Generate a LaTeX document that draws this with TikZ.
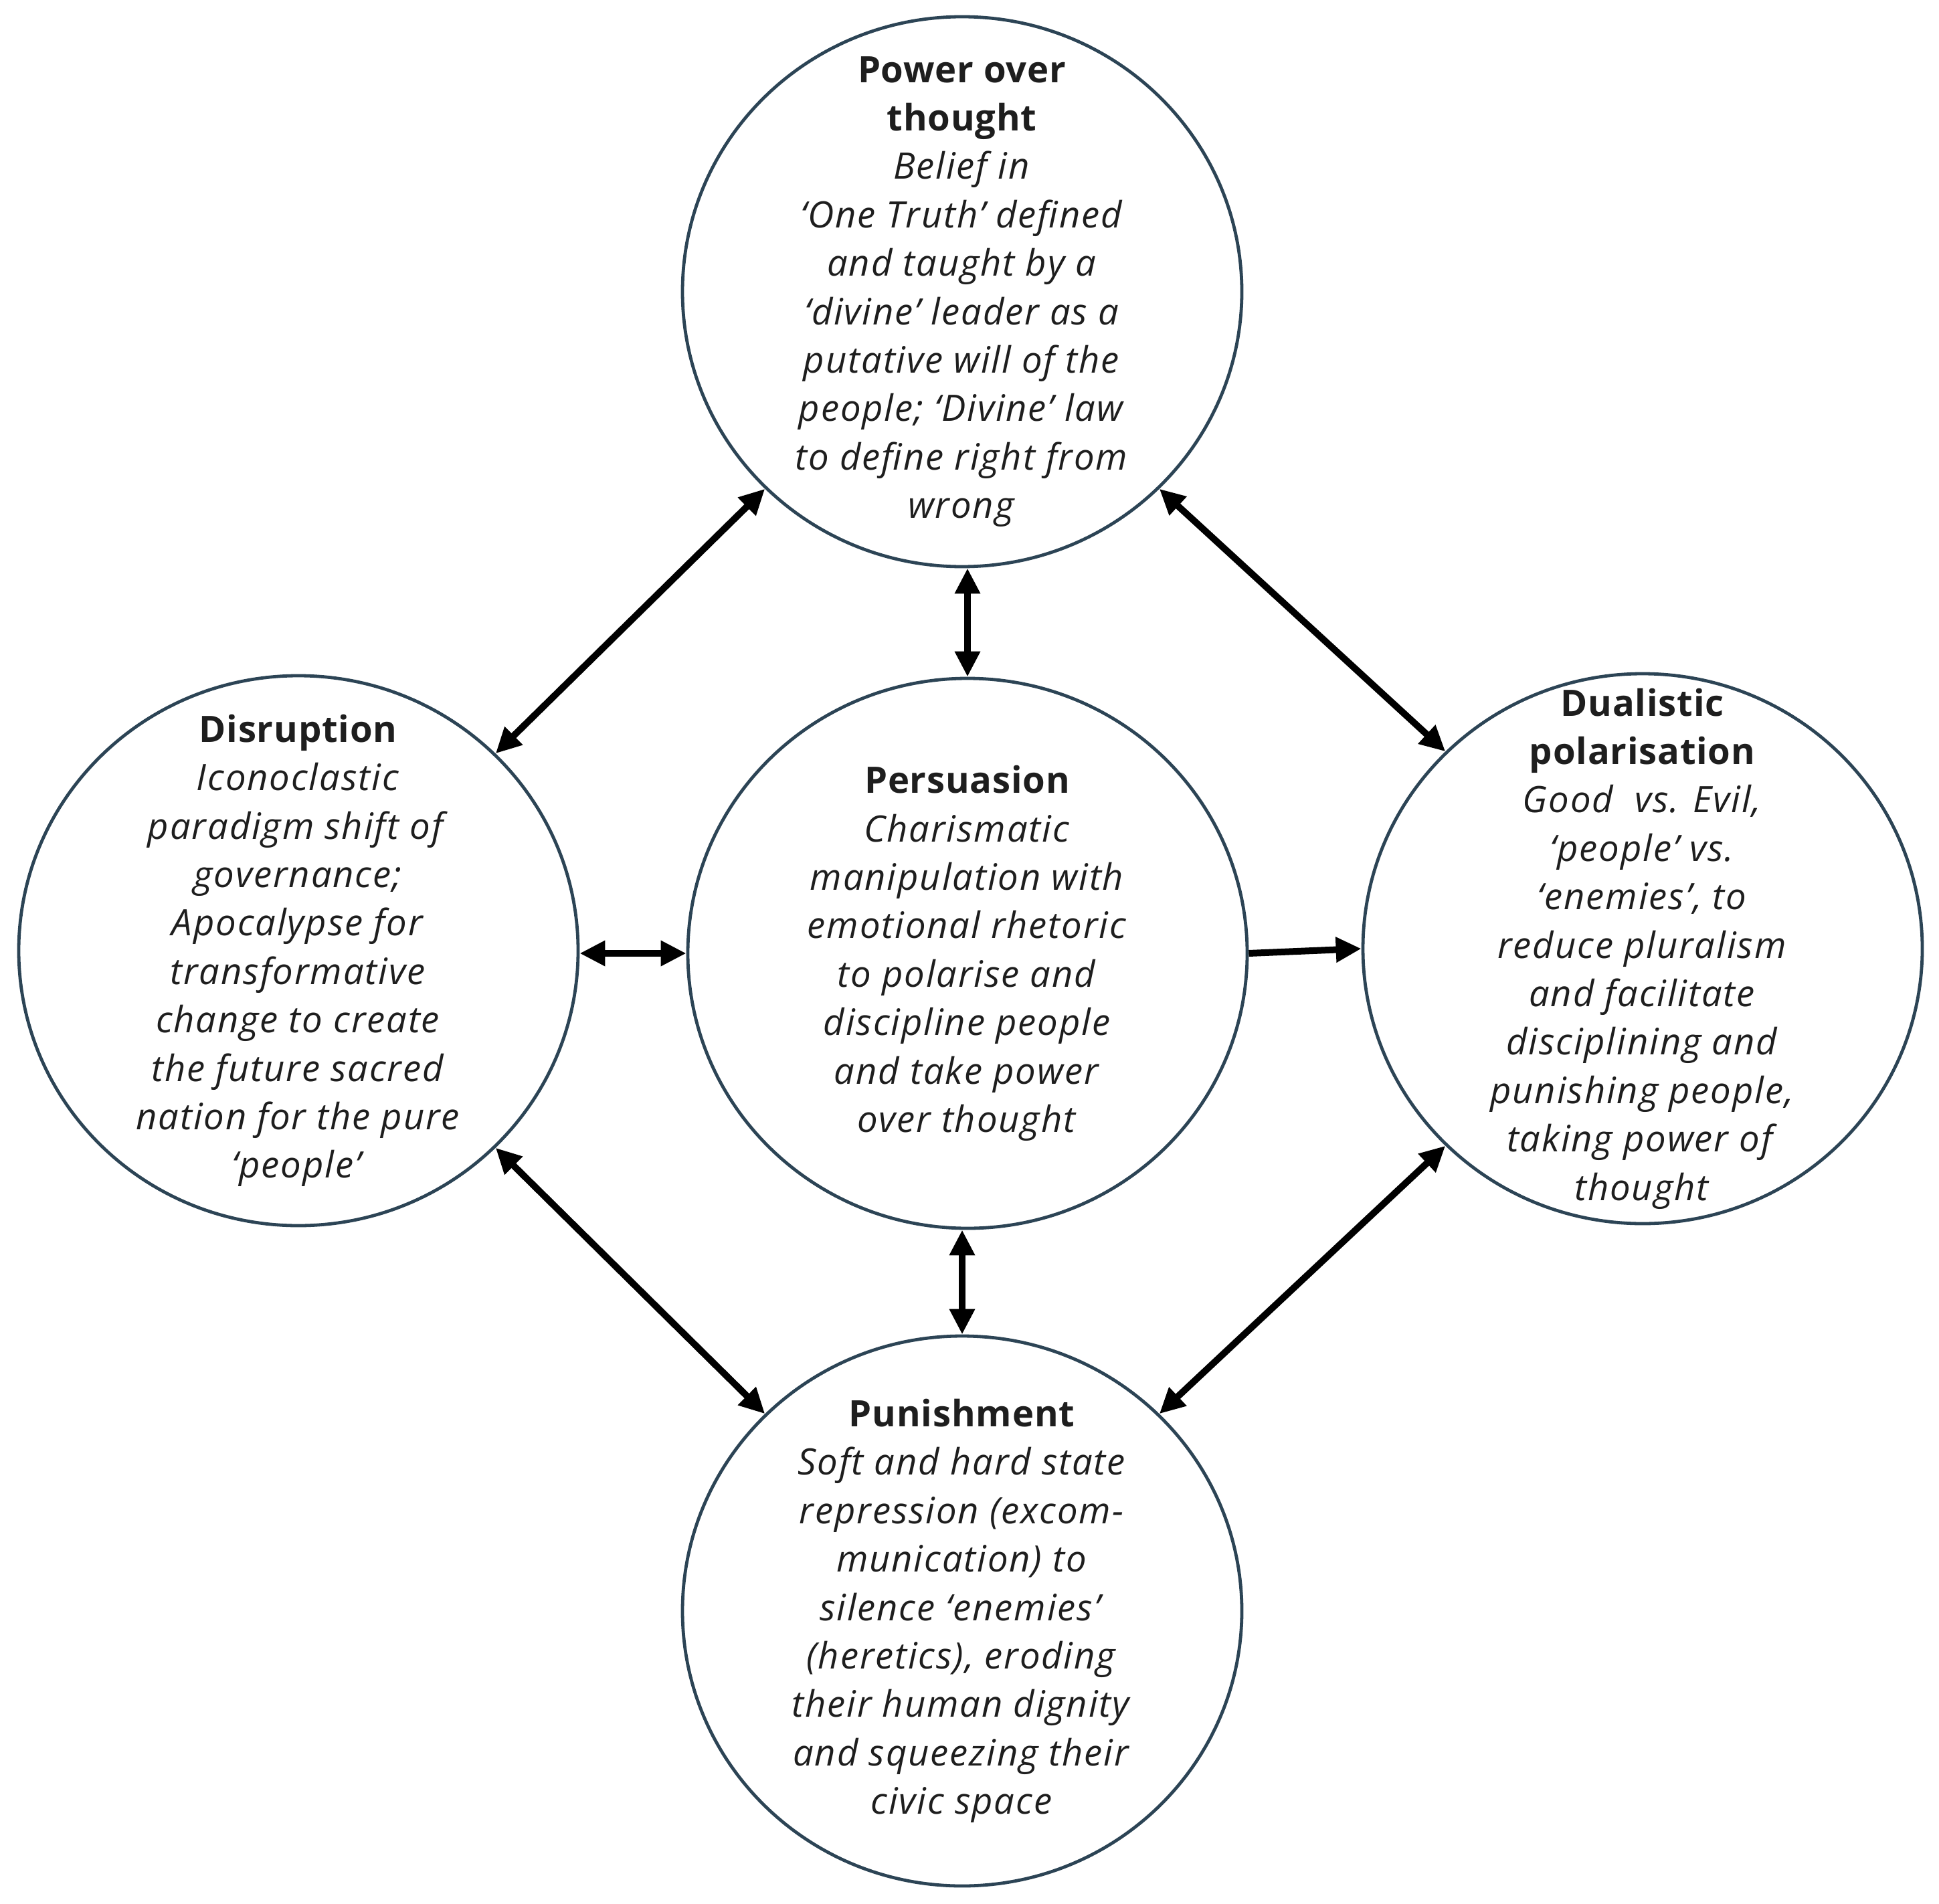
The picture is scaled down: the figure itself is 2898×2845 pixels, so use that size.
\documentclass[tikz,border=0pt]{standalone}
\usepackage{fontspec}
\setmainfont{Open Sans}[ItalicFeatures={LetterSpace=3.5},BoldFeatures={LetterSpace=1.5}]
\usetikzlibrary{shapes.geometric,arrows.meta}
\definecolor{ringcol}{HTML}{2C4455}
\definecolor{txtcol}{HTML}{1E1E1E}
\tikzset{
  ring/.style={ellipse, draw=ringcol, line width=1.2pt, fill=white,
    minimum width=209pt, minimum height=205.5pt, inner sep=0pt},
  ringtext/.style={align=center, text=txtcol, inner sep=0pt,
    font=\fontsize{13.6}{18.1}\selectfont},
  link/.style={line width=2.5pt, draw=black,
    {Triangle[length=9.5pt,width=9pt]}-{Triangle[length=9.5pt,width=9pt]}},
  onelink/.style={line width=2.5pt, draw=black,
    -{Triangle[length=9.5pt,width=9pt]}}
}
\begin{document}
\begin{tikzpicture}[x=0.25pt,y=-0.25pt]
\useasboundingbox (0,0) rectangle (2898,2845);
\fill[white] (0,0) rectangle (2898,2845);

\node[ring] (top) at (1438,436) {};
\node[ring] (left) at (446,1421) {};
\node[ring] (center) at (1446,1425) {};
\node[ring] (right) at (2455,1418) {};
\node[ring] (bottom) at (1438,2408) {};

\node[ringtext] (toptxt) at (top.center) {\textbf{Power over}\\\textbf{thought}\\
\textit{Belief in}\\\textit{‘One Truth’ defined}\\\textit{and taught by a}\\
\textit{‘divine’ leader as a}\\\textit{putative will of the}\\
\textit{people; ‘Divine’ law}\\\textit{to define right from}\\\textit{wrong}};

\node[ringtext] (lefttxt) at (left.center) {\textbf{Disruption}\\
\textit{Iconoclastic}\\\textit{paradigm shift of}\\\textit{governance;}\\
\textit{Apocalypse for}\\\textit{transformative}\\\textit{change to create}\\
\textit{the future sacred}\\\textit{nation for the pure}\\\textit{‘people’}};

\node[ringtext] (centertxt) at (center.center) {\textbf{Persuasion}\\
\textit{Charismatic}\\\textit{manipulation with}\\\textit{emotional rhetoric}\\
\textit{to polarise and}\\\textit{discipline people}\\\textit{and take power}\\
\textit{over thought}};

\node[ringtext] (righttxt) at (right.center) {\textbf{Dualistic}\\\textbf{polarisation}\\
\textit{Good\ \ vs. Evil,}\\\textit{‘people’ vs.}\\\textit{‘enemies’, to}\\
\textit{reduce pluralism}\\\textit{and facilitate}\\\textit{disciplining and}\\
\textit{punishing people,}\\\textit{taking power of}\\\textit{thought}};

\node[ringtext] (bottomtxt) at (bottom.center) {\textbf{Punishment}\\
\textit{Soft and hard state}\\\textit{repression (excom-}\\\textit{munication) to}\\
\textit{silence ‘enemies’}\\\textit{(heretics), eroding}\\\textit{their human dignity}\\
\textit{and squeezing their}\\\textit{civic space}};

\draw[link] (top.225) -- (left.45);
\draw[link] (top.-45) -- (right.135);
\draw[link] (left.-45) -- (bottom.135);
\draw[link] (right.-135) -- (bottom.45);
\draw[link] (center.north |- top.south) -- (center.north);
\draw[link] (bottom.north |- center.south) -- (bottom.north);
\draw[link] (center.west -| left.east) -- (center.west);
\draw[onelink] (center.east) -- (right.west);
\end{tikzpicture}
\end{document}
